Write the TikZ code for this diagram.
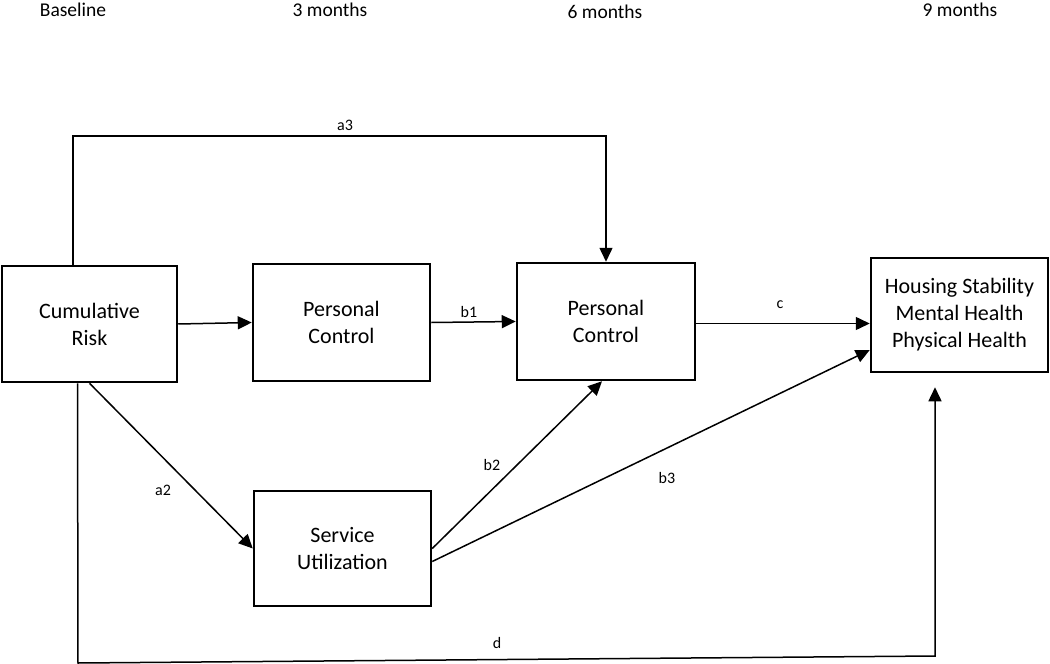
\documentclass[tikz,border=0pt]{standalone}
\usepackage{fontspec}
\setmainfont{Carlito}
\usetikzlibrary{arrows.meta}
\begin{document}
\begin{tikzpicture}[x=1pt,y=-1pt,
  box/.style={draw,line width=2.5pt,rectangle,align=center,inner sep=0pt,
    font=\fontsize{22}{27}\selectfont},
  hdr/.style={font=\fontsize{19.5}{22}\selectfont,inner sep=0pt},
  elab/.style={font=\fontsize{16}{18}\selectfont,inner sep=0pt},
  arr/.style={line width=1.5pt,-{Triangle[length=14pt,width=13pt]}},
  ln/.style={line width=1.5pt}]
\useasboundingbox[fill=white] (0,0) rectangle (1050,664);
% headers
\node[hdr] (h0) at (73,10) {Baseline};
\node[hdr] (h3) at (330,10) {3 months};
\node[hdr] (h6) at (605,12) {6 months};
\node[hdr] (h9) at (960,10) {9 months};
% boxes
\node[box,minimum width=175pt,minimum height=116pt] (CR) at (89.5,324) {Cumulative\\Risk};
\node[box,minimum width=177pt,minimum height=117pt] (PC3) at (341.5,322.5) {Personal\\Control};
\node[box,minimum width=178pt,minimum height=117pt] (PC6) at (606,321.5) {Personal\\Control};
\node[box,minimum width=177pt,minimum height=114pt] (H) at (959.5,315) {Housing Stability\\Mental Health\\Physical Health};
\node[box,minimum width=177pt,minimum height=115pt] (SU) at (342.5,548.5) {Service\\Utilization};
% helper coordinates
\coordinate (a3top) at (606,136);
\coordinate (d1) at (78,663);
\coordinate (d2) at (935,656);
% connectors
\draw[arr] ([xshift=-16.5pt]CR.north) |- (a3top) -- (PC6.north);
\draw[arr] (CR.east) -- (PC3.west);
\draw[arr] (PC3.east) -- (PC6.west);
\draw[arr] ([yshift=-2pt]PC6.east) -- ([yshift=-2pt]PC6.east -| H.west);
\draw[arr] (CR.south) -- (SU.west);
\draw[arr] (SU.east) -- ([xshift=-4pt]PC6.south);
\draw[arr] ([yshift=-13pt]SU.east) -- ([yshift=-35pt]H.west);
\draw[arr,shorten >=14pt] ([xshift=-12pt]CR.south) -- (d1) -- (d2) -- ([xshift=-24.5pt]H.south);
% edge labels
\node[elab] (la3) at (345,125) {a3};
\node[elab] (lb1) at (469,312) {b1};
\node[elab] (lc) at (780,305) {c};
\node[elab] (la2) at (163,490) {a2};
\node[elab] (lb2) at (492,465) {b2};
\node[elab] (lb3) at (667,478) {b3};
\node[elab] (ld) at (497,643) {d};
\end{tikzpicture}
\end{document}
